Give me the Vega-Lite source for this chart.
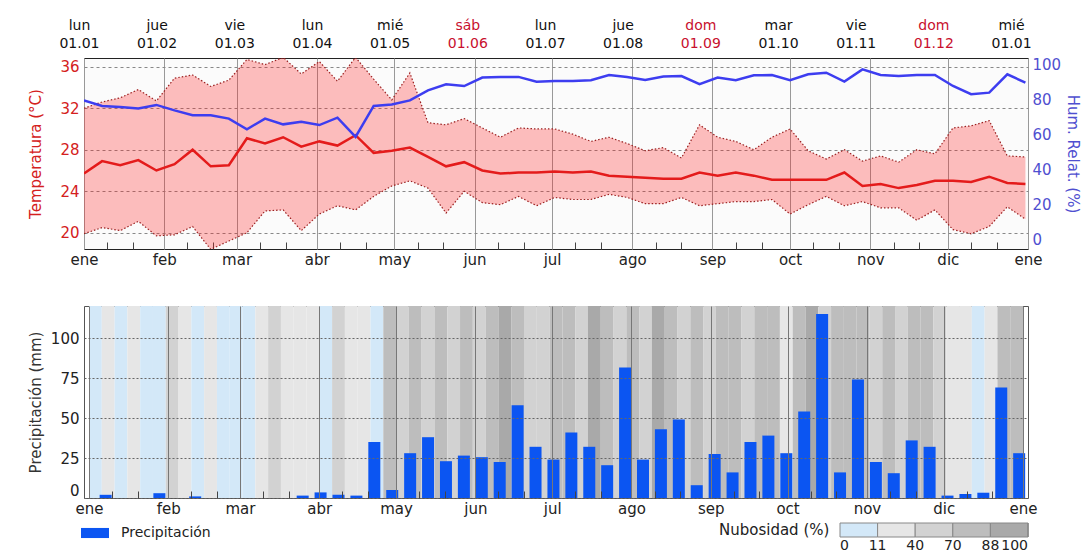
{
  "$schema": "https://vega.github.io/schema/vega-lite/v6.json",
  "padding": {"left": 27, "top": 17, "right": 0, "bottom": 0},
  "background": "white",
  "spacing": 37,
  "config": {
    "font": "DejaVu Sans",
    "view": {"stroke": "#222", "strokeWidth": 1},
    "axis": {"labelFont": "DejaVu Sans", "titleFont": "DejaVu Sans", "titleFontWeight": "normal", "labelFontSize": 15, "titleFontSize": 15},
    "legend": {"labelFont": "DejaVu Sans", "titleFont": "DejaVu Sans"}
  },
  "resolve": {"legend": {"color": "independent", "fill": "independent", "stroke": "independent"}},
  "datasets": {
    "weekly": [
      {"day": 0, "tmean": 25.7, "tmax": 32.0, "tmin": 19.9, "hum": 79.4},
      {"day": 7, "tmean": 26.9, "tmax": 32.6, "tmin": 20.5, "hum": 76.2},
      {"day": 14, "tmean": 26.5, "tmax": 33.0, "tmin": 20.2, "hum": 75.6},
      {"day": 21, "tmean": 27.0, "tmax": 33.8, "tmin": 21.1, "hum": 74.7},
      {"day": 28, "tmean": 26.0, "tmax": 32.7, "tmin": 19.7, "hum": 76.8},
      {"day": 35, "tmean": 26.6, "tmax": 34.9, "tmin": 19.8, "hum": 73.7},
      {"day": 42, "tmean": 28.0, "tmax": 35.2, "tmin": 20.6, "hum": 70.9},
      {"day": 49, "tmean": 26.4, "tmax": 34.1, "tmin": 18.4, "hum": 70.9},
      {"day": 56, "tmean": 26.5, "tmax": 34.7, "tmin": 19.2, "hum": 69.0},
      {"day": 63, "tmean": 29.1, "tmax": 36.7, "tmin": 20.0, "hum": 62.9},
      {"day": 70, "tmean": 28.6, "tmax": 36.2, "tmin": 22.1, "hum": 69.0},
      {"day": 77, "tmean": 29.2, "tmax": 36.9, "tmin": 22.2, "hum": 65.7},
      {"day": 84, "tmean": 28.3, "tmax": 35.3, "tmin": 20.2, "hum": 67.2},
      {"day": 91, "tmean": 28.8, "tmax": 36.5, "tmin": 21.8, "hum": 65.3},
      {"day": 98, "tmean": 28.4, "tmax": 34.6, "tmin": 22.6, "hum": 69.5},
      {"day": 105, "tmean": 29.4, "tmax": 36.9, "tmin": 22.2, "hum": 58.5},
      {"day": 112, "tmean": 27.7, "tmax": 34.8, "tmin": 23.5, "hum": 76.2},
      {"day": 119, "tmean": 27.9, "tmax": 32.8, "tmin": 24.5, "hum": 77.1},
      {"day": 126, "tmean": 28.2, "tmax": 35.4, "tmin": 25.0, "hum": 79.4},
      {"day": 133, "tmean": 27.3, "tmax": 30.6, "tmin": 24.3, "hum": 85.1},
      {"day": 140, "tmean": 26.4, "tmax": 30.4, "tmin": 21.9, "hum": 88.6},
      {"day": 147, "tmean": 26.8, "tmax": 31.0, "tmin": 24.0, "hum": 87.6},
      {"day": 154, "tmean": 26.0, "tmax": 30.1, "tmin": 22.9, "hum": 92.4},
      {"day": 161, "tmean": 25.7, "tmax": 29.2, "tmin": 22.7, "hum": 92.8},
      {"day": 168, "tmean": 25.8, "tmax": 30.1, "tmin": 23.5, "hum": 92.8},
      {"day": 175, "tmean": 25.8, "tmax": 30.0, "tmin": 22.6, "hum": 90.1},
      {"day": 182, "tmean": 25.9, "tmax": 30.0, "tmin": 23.4, "hum": 90.5},
      {"day": 189, "tmean": 25.8, "tmax": 29.5, "tmin": 23.2, "hum": 90.5},
      {"day": 196, "tmean": 25.9, "tmax": 28.8, "tmin": 23.2, "hum": 90.9},
      {"day": 203, "tmean": 25.5, "tmax": 29.2, "tmin": 23.7, "hum": 93.9},
      {"day": 210, "tmean": 25.4, "tmax": 28.6, "tmin": 23.4, "hum": 92.8},
      {"day": 217, "tmean": 25.3, "tmax": 27.9, "tmin": 22.8, "hum": 91.0},
      {"day": 224, "tmean": 25.2, "tmax": 28.2, "tmin": 22.8, "hum": 93.0},
      {"day": 231, "tmean": 25.2, "tmax": 27.2, "tmin": 23.4, "hum": 93.3},
      {"day": 238, "tmean": 25.8, "tmax": 30.4, "tmin": 22.6, "hum": 88.6},
      {"day": 245, "tmean": 25.5, "tmax": 29.2, "tmin": 22.8, "hum": 92.4},
      {"day": 252, "tmean": 25.8, "tmax": 28.8, "tmin": 23.0, "hum": 90.9},
      {"day": 259, "tmean": 25.5, "tmax": 28.0, "tmin": 23.0, "hum": 93.7},
      {"day": 266, "tmean": 25.1, "tmax": 29.2, "tmin": 23.2, "hum": 93.9},
      {"day": 273, "tmean": 25.1, "tmax": 30.0, "tmin": 21.8, "hum": 90.9},
      {"day": 280, "tmean": 25.1, "tmax": 27.9, "tmin": 22.7, "hum": 94.3},
      {"day": 287, "tmean": 25.1, "tmax": 27.1, "tmin": 23.5, "hum": 95.2},
      {"day": 294, "tmean": 25.8, "tmax": 28.0, "tmin": 22.6, "hum": 90.1},
      {"day": 301, "tmean": 24.5, "tmax": 26.9, "tmin": 23.0, "hum": 97.1},
      {"day": 308, "tmean": 24.7, "tmax": 27.4, "tmin": 22.4, "hum": 93.9},
      {"day": 315, "tmean": 24.3, "tmax": 26.8, "tmin": 22.4, "hum": 93.3},
      {"day": 322, "tmean": 24.6, "tmax": 28.0, "tmin": 21.2, "hum": 93.9},
      {"day": 329, "tmean": 25.0, "tmax": 27.6, "tmin": 22.2, "hum": 93.9},
      {"day": 336, "tmean": 25.0, "tmax": 30.1, "tmin": 20.3, "hum": 87.6},
      {"day": 343, "tmean": 24.9, "tmax": 30.3, "tmin": 19.9, "hum": 82.9},
      {"day": 350, "tmean": 25.4, "tmax": 30.8, "tmin": 20.6, "hum": 83.8},
      {"day": 357, "tmean": 24.8, "tmax": 27.4, "tmin": 22.5, "hum": 94.3},
      {"day": 364, "tmean": 24.7, "tmax": 27.3, "tmin": 21.3, "hum": 89.5}
    ],
    "precip": [
      {"day": 6.5, "precip": 2}, {"day": 13.5, "precip": 0}, {"day": 20.5, "precip": 0}, {"day": 27.5, "precip": 3},
      {"day": 34.5, "precip": 0}, {"day": 41.5, "precip": 1}, {"day": 48.5, "precip": 0}, {"day": 55.5, "precip": 0},
      {"day": 62.5, "precip": 0}, {"day": 69.5, "precip": 0}, {"day": 76.5, "precip": 0}, {"day": 83.5, "precip": 1.5},
      {"day": 90.5, "precip": 3.5}, {"day": 97.5, "precip": 2}, {"day": 104.5, "precip": 1.5}, {"day": 111.5, "precip": 35},
      {"day": 118.5, "precip": 5}, {"day": 125.5, "precip": 28}, {"day": 132.5, "precip": 38}, {"day": 139.5, "precip": 23},
      {"day": 146.5, "precip": 26.5}, {"day": 153.5, "precip": 25.5}, {"day": 160.5, "precip": 22.5}, {"day": 167.5, "precip": 58},
      {"day": 174.5, "precip": 32}, {"day": 181.5, "precip": 24}, {"day": 188.5, "precip": 41}, {"day": 195.5, "precip": 32},
      {"day": 202.5, "precip": 20.5}, {"day": 209.5, "precip": 81.5}, {"day": 216.5, "precip": 24}, {"day": 223.5, "precip": 43},
      {"day": 230.5, "precip": 49}, {"day": 237.5, "precip": 8}, {"day": 244.5, "precip": 27.5}, {"day": 251.5, "precip": 16},
      {"day": 258.5, "precip": 35}, {"day": 265.5, "precip": 39}, {"day": 272.5, "precip": 28}, {"day": 279.5, "precip": 54},
      {"day": 286.5, "precip": 115}, {"day": 293.5, "precip": 16}, {"day": 300.5, "precip": 74}, {"day": 307.5, "precip": 22.5},
      {"day": 314.5, "precip": 15.5}, {"day": 321.5, "precip": 36}, {"day": 328.5, "precip": 32}, {"day": 335.5, "precip": 1.5},
      {"day": 342.5, "precip": 2.5}, {"day": 349.5, "precip": 3.3}, {"day": 356.5, "precip": 69}, {"day": 363.5, "precip": 28}
    ],
    "cloud": [
      {"start": 0, "end": 5, "cloud": 5}, {"start": 5, "end": 10, "cloud": 25}, {"start": 10, "end": 15, "cloud": 5},
      {"start": 15, "end": 20, "cloud": 20}, {"start": 20, "end": 25, "cloud": 8}, {"start": 25, "end": 30, "cloud": 5},
      {"start": 30, "end": 35, "cloud": 55}, {"start": 35, "end": 40, "cloud": 25}, {"start": 40, "end": 45, "cloud": 5},
      {"start": 45, "end": 50, "cloud": 20}, {"start": 50, "end": 55, "cloud": 8}, {"start": 55, "end": 60, "cloud": 5},
      {"start": 60, "end": 65, "cloud": 8}, {"start": 65, "end": 70, "cloud": 30}, {"start": 70, "end": 75, "cloud": 45},
      {"start": 75, "end": 80, "cloud": 25}, {"start": 80, "end": 85, "cloud": 20}, {"start": 85, "end": 90, "cloud": 30},
      {"start": 90, "end": 95, "cloud": 8}, {"start": 95, "end": 100, "cloud": 45}, {"start": 100, "end": 105, "cloud": 25},
      {"start": 105, "end": 110, "cloud": 25}, {"start": 110, "end": 115, "cloud": 10}, {"start": 115, "end": 120, "cloud": 80},
      {"start": 120, "end": 125, "cloud": 50}, {"start": 125, "end": 130, "cloud": 80}, {"start": 130, "end": 135, "cloud": 55},
      {"start": 135, "end": 140, "cloud": 82}, {"start": 140, "end": 145, "cloud": 60}, {"start": 145, "end": 150, "cloud": 85},
      {"start": 150, "end": 155, "cloud": 60}, {"start": 155, "end": 160, "cloud": 80}, {"start": 160, "end": 165, "cloud": 90},
      {"start": 165, "end": 170, "cloud": 75}, {"start": 170, "end": 175, "cloud": 45}, {"start": 175, "end": 180, "cloud": 50},
      {"start": 180, "end": 185, "cloud": 80}, {"start": 185, "end": 190, "cloud": 85}, {"start": 190, "end": 195, "cloud": 60},
      {"start": 195, "end": 200, "cloud": 90}, {"start": 200, "end": 205, "cloud": 80}, {"start": 205, "end": 210, "cloud": 55},
      {"start": 210, "end": 215, "cloud": 85}, {"start": 215, "end": 220, "cloud": 60}, {"start": 220, "end": 225, "cloud": 92},
      {"start": 225, "end": 230, "cloud": 80}, {"start": 230, "end": 235, "cloud": 55}, {"start": 235, "end": 240, "cloud": 82},
      {"start": 240, "end": 245, "cloud": 60}, {"start": 245, "end": 250, "cloud": 85}, {"start": 250, "end": 255, "cloud": 75},
      {"start": 255, "end": 260, "cloud": 55}, {"start": 260, "end": 265, "cloud": 85}, {"start": 265, "end": 270, "cloud": 80},
      {"start": 270, "end": 275, "cloud": 30}, {"start": 275, "end": 280, "cloud": 75}, {"start": 280, "end": 285, "cloud": 90},
      {"start": 285, "end": 290, "cloud": 60}, {"start": 290, "end": 295, "cloud": 82}, {"start": 295, "end": 300, "cloud": 78},
      {"start": 300, "end": 305, "cloud": 85}, {"start": 305, "end": 310, "cloud": 55}, {"start": 310, "end": 315, "cloud": 82},
      {"start": 315, "end": 320, "cloud": 55}, {"start": 320, "end": 325, "cloud": 80}, {"start": 325, "end": 330, "cloud": 85},
      {"start": 330, "end": 335, "cloud": 60}, {"start": 335, "end": 340, "cloud": 30}, {"start": 340, "end": 345, "cloud": 15},
      {"start": 345, "end": 350, "cloud": 8}, {"start": 350, "end": 355, "cloud": 35}, {"start": 355, "end": 360, "cloud": 80},
      {"start": 360, "end": 365, "cloud": 82}
    ],
    "toplabels": [
      {"lbl": "lun|01.01"}, {"lbl": "jue|01.02"}, {"lbl": "vie|01.03"}, {"lbl": "lun|01.04"}, {"lbl": "mié|01.05"},
      {"lbl": "sáb|01.06"}, {"lbl": "lun|01.07"}, {"lbl": "jue|01.08"}, {"lbl": "dom|01.09"}, {"lbl": "mar|01.10"},
      {"lbl": "vie|01.11"}, {"lbl": "dom|01.12"}, {"lbl": "mié|01.01"}
    ]
  },
  "vconcat": [
    {
      "width": 944,
      "height": 191,
      "view": {"fill": "#fbfbfb", "stroke": "#222"},
      "layer": [
        {
          "layer": [
            {
              "data": {"name": "weekly"},
              "encoding": {
                "x": {
                  "field": "day", "type": "quantitative",
                  "scale": {"domain": [0, 365], "nice": false, "zero": false},
                  "axis": {
                    "title": null, "tickCount": 100,
                    "values": [0,9,19,31,40,50,59,68,78,90,99,109,120,129,139,151,160,170,181,190,200,212,221,231,243,252,262,273,282,292,304,313,323,334,343,353,365],
                    "labelExpr": "indexof([0,31,59,90,120,151,181,212,243,273,304,334,365], datum.value) >= 0 ? ['ene','feb','mar','abr','may','jun','jul','ago','sep','oct','nov','dic','ene'][indexof([0,31,59,90,120,151,181,212,243,273,304,334,365], datum.value)] : ''",
                    "labelAngle": 0, "labelColor": "#222", "labelFontSize": 15,
                    "labelOverlap": false, "labelFlush": false, "labelBound": false,
                    "tickSize": -7, "tickColor": "#444", "tickWidth": 1,
                    "tickOpacity": {"condition": {"test": "indexof([0,31,59,90,120,151,181,212,243,273,304,334,365], datum.value) >= 0", "value": 0}, "value": 1},
                    "labelPadding": 10,
                    "grid": true, "gridColor": "#999",
                    "gridOpacity": {"condition": {"test": "indexof([0,31,59,90,120,151,181,212,243,273,304,334,365], datum.value) >= 0", "value": 1}, "value": 0},
                    "domain": false
                  }
                }
              },
              "layer": [
                {
                  "mark": {"type": "area", "color": "#ff1a1a", "opacity": 0.28, "clip": true},
                  "encoding": {
                    "y": {
                      "field": "tmin", "type": "quantitative",
                      "scale": {"domain": [18.43, 36.84], "nice": false, "zero": false},
                      "axis": {
                        "title": "Temperatura (°C)", "titleColor": "#d42020", "labelColor": "#d42020",
                        "values": [20, 24, 28, 32, 36], "grid": true, "gridDash": [3, 3], "gridColor": "#888",
                        "domain": false, "ticks": false, "labelPadding": 5, "titlePadding": 16
                      }
                    },
                    "y2": {"field": "tmax"}
                  }
                },
                {
                  "mark": {"type": "line", "color": "#9b2020", "strokeDash": [1.5, 2], "strokeWidth": 1.2, "clip": true},
                  "encoding": {"y": {"field": "tmax", "type": "quantitative"}}
                },
                {
                  "mark": {"type": "line", "color": "#9b2020", "strokeDash": [1.5, 2], "strokeWidth": 1.2, "clip": true},
                  "encoding": {"y": {"field": "tmin", "type": "quantitative"}}
                },
                {
                  "mark": {"type": "line", "color": "#e41b1b", "strokeWidth": 2.5, "clip": true},
                  "encoding": {"y": {"field": "tmean", "type": "quantitative"}}
                }
              ]
            },
            {
              "data": {"name": "weekly"},
              "mark": {"type": "line", "color": "#3d3df0", "strokeWidth": 2.5, "clip": true},
              "encoding": {
                "x": {"field": "day", "type": "quantitative"},
                "y": {
                  "field": "hum", "type": "quantitative",
                  "scale": {"domain": [-5.5, 103.6], "nice": false, "zero": false},
                  "axis": {
                    "orient": "right", "title": "Hum. Relat. (%)", "titleColor": "#4f4fd0", "labelColor": "#4f4fd0",
                    "values": [0, 20, 40, 60, 80, 100], "grid": false, "domain": false, "ticks": false,
                    "labelPadding": 4, "titlePadding": 4
                  }
                }
              }
            }
          ],
          "resolve": {"scale": {"y": "independent"}}
        },
        {
          "data": {"name": "toplabels"},
          "mark": {"type": "point", "opacity": 0},
          "encoding": {
            "x": {
              "field": "lbl", "type": "nominal", "sort": null,
              "scale": {"type": "point", "padding": 0.077},
              "axis": {
                "orient": "top", "title": null, "domain": false, "ticks": false, "grid": false,
                "labelAngle": 0, "labelFontSize": 14, "labelLineHeight": 18, "labelPadding": 26, "labelOffset": -11,
                "labelExpr": "split(datum.label, '|')",
                "labelColor": {"condition": {"test": "indexof(datum.value, 'dom') >= 0 || indexof(datum.value, 'sáb') >= 0", "value": "#c8102e"}, "value": "#111"},
                "labelOverlap": false, "labelBound": false
              }
            }
          }
        }
      ],
      "resolve": {"scale": {"x": "independent"}}
    },
    {
      "width": 944,
      "height": 192,
      "view": {"stroke": "#555"},
      "layer": [
        {
          "data": {"name": "cloud"},
          "mark": {"type": "rect"},
          "encoding": {
            "x": {
              "field": "start", "type": "quantitative",
              "scale": {"domain": [0, 365], "nice": false, "zero": false},
              "axis": {
                "title": null, "zindex": 1, "tickCount": 100,
                "values": [0,9,19,31,40,50,59,68,78,90,99,109,120,129,139,151,160,170,181,190,200,212,221,231,243,252,262,273,282,292,304,313,323,334,343,353,365],
                "labelExpr": "indexof([0,31,59,90,120,151,181,212,243,273,304,334,365], datum.value) >= 0 ? ['ene','feb','mar','abr','may','jun','jul','ago','sep','oct','nov','dic','ene'][indexof([0,31,59,90,120,151,181,212,243,273,304,334,365], datum.value)] : ''",
                "labelAngle": 0, "labelColor": "#222", "labelFontSize": 15,
                "labelOverlap": false, "labelFlush": false, "labelBound": false,
                "tickSize": -7, "tickColor": "#444", "tickWidth": 1,
                "tickOpacity": {"condition": {"test": "indexof([0,31,59,90,120,151,181,212,243,273,304,334,365], datum.value) >= 0", "value": 0}, "value": 1},
                "labelPadding": 10,
                "grid": true, "gridColor": "#777",
                "gridOpacity": {"condition": {"test": "indexof([0,31,59,90,120,151,181,212,243,273,304,334,365], datum.value) >= 0", "value": 1}, "value": 0},
                "domain": false
              }
            },
            "x2": {"field": "end"},
            "fill": {
              "field": "cloud", "type": "quantitative",
              "scale": {"type": "threshold", "domain": [11, 40, 70, 88], "range": ["#d3e8f8", "#e6e6e6", "#d2d2d2", "#bdbdbd", "#a9a9a9"]},
              "legend": null
            }
          }
        },
        {
          "data": {"values": [{"legend": "nubosidad"}]},
          "mark": {"type": "point", "opacity": 0},
          "encoding": {
            "stroke": {
              "datum": 0, "type": "quantitative",
              "scale": {"type": "quantize", "domain": [0, 5], "range": ["#d3e8f8", "#e6e6e6", "#d2d2d2", "#bdbdbd", "#a9a9a9"]},
              "legend": {
                "title": "Nubosidad (%)", "type": "gradient", "direction": "horizontal",
                "orient": "none", "legendX": 635, "legendY": 217,
                "values": [0, 1, 2, 3, 4, 5],
                "gradientLength": 188, "gradientThickness": 14, "gradientStrokeColor": "#888", "gradientStrokeWidth": 1,
                "titleOrient": "left", "titleFontSize": 15, "titleFontWeight": "normal", "titleColor": "#222",
                "labelFontSize": 14, "labelColor": "#222", "titlePadding": 10, "labelAlign": "center",
                "labelExpr": "['0','11','40','70','88','100'][datum.value]"
              }
            }
          }
        },
        {
          "data": {"name": "precip"},
          "mark": {"type": "bar", "size": 12},
          "encoding": {
            "x": {"field": "day", "type": "quantitative"},
            "y": {
              "field": "precip", "type": "quantitative",
              "scale": {"domain": [0, 120], "nice": false},
              "axis": {
                "title": "Precipitación (mm)", "titleColor": "#333", "labelColor": "#222",
                "values": [0, 25, 50, 75, 100], "grid": true, "gridDash": [2, 2], "gridColor": "#666",
                "domain": false, "ticks": false, "labelPadding": 5, "titlePadding": 7, "zindex": 1, "labelFlush": true
              }
            },
            "color": {
              "datum": "Precipitación", "type": "nominal",
              "scale": {"range": ["#0b55f2"]},
              "legend": {
                "title": null, "orient": "none", "legendX": -3, "legendY": 213,
                "symbolType": "M-1,-0.36L1,-0.36L1,0.36L-1,0.36Z", "symbolSize": 784, "symbolStrokeWidth": 0,
                "labelFontSize": 14, "labelColor": "#222", "labelOffset": 12
              }
            }
          }
        }
      ]
    }
  ]
}
